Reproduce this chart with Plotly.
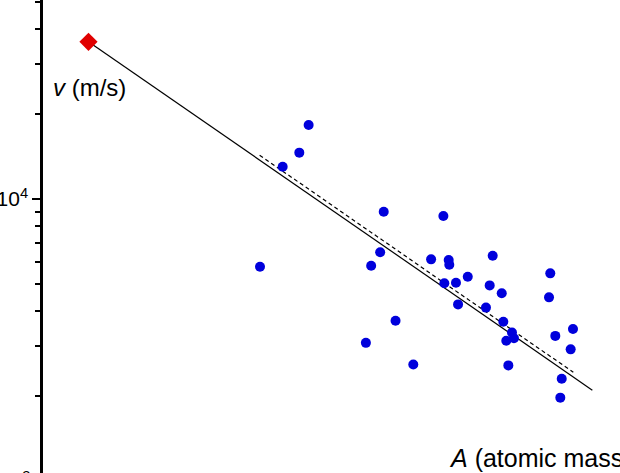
import plotly.graph_objects as go

# Experimental speed of sound in elemental solids vs atomic mass
mass_A = [12.0, 10.8, 8.95, 6.93, 28.0, 26.9, 24.3, 22.9, 32.0, 39.1,
          54.9, 47.8, 58.3, 58.7, 55.5, 63.3, 72.3, 64.8, 95.8, 92.6,
          106.1, 88.8, 108.0, 119.1, 121.8, 111.7, 114.3, 183.5, 180.9, 194.2,
          237.1, 231.0, 208.8, 205.5]
speed_v = [18300, 14600, 13020, 5750, 9015, 6470, 5800, 3090, 3700, 2590,
           8700, 6110, 6080, 5850, 5025, 5050, 5300, 4230, 6295, 4940,
           4630, 4120, 3670, 3360, 3210, 3145, 2570, 5450, 4480, 3270,
           3460, 2930, 2305, 1975]

# Upper bound (atomic metallic hydrogen)
bound_A = [1.0]
bound_v = [36100]

# Theoretical line v ~ A^-1/2 and fit
theory_A = [1.0, 295]
theory_v = [36100, 2100]
fit_A = [6.9, 238]
fit_v = [14300, 2430]

y_major = [10000]
y_major_text = ["10<sup>4</sup>"]
y_minor = [2000, 3000, 4000, 5000, 6000, 7000, 8000, 9000, 20000, 30000, 40000, 50000]

FONT = "Liberation Sans, Arial, sans-serif"

fig = go.Figure()
fig.add_trace(go.Scatter(x=theory_A, y=theory_v, mode="lines",
                         line=dict(color="black", width=1.2), showlegend=False))
fig.add_trace(go.Scatter(x=fit_A, y=fit_v, mode="lines",
                         line=dict(color="black", width=1.2, dash="4px,3px"), showlegend=False))
fig.add_trace(go.Scatter(x=mass_A, y=speed_v, mode="markers",
                         marker=dict(color="#0000dc", size=10, line=dict(width=0)),
                         showlegend=False))
fig.add_trace(go.Scatter(x=bound_A, y=bound_v, mode="markers",
                         marker=dict(color="#e00000", size=14, symbol="diamond", line=dict(width=0)),
                         showlegend=False))

fig.update_layout(
    width=620, height=473,
    margin=dict(l=43, r=0, t=0, b=0),
    paper_bgcolor="white", plot_bgcolor="white",
    font=dict(family=FONT, color="black", size=21),
    xaxis=dict(type="log", range=[-0.2230, 2.6054], visible=False),
    yaxis=dict(type="log", range=[3.0284, 4.7057],
               showline=True, linewidth=2.5, linecolor="black",
               showgrid=False, zeroline=False, automargin=False,
               tickmode="array", tickvals=y_major, ticktext=y_major_text,
               ticks="outside", ticklen=8, tickwidth=2, tickcolor="black",
               tickfont=dict(family=FONT, size=21, color="black"),
               minor=dict(tickmode="array", tickvals=y_minor, ticks="outside",
                          ticklen=5, tickwidth=2, tickcolor="black", showgrid=False)),
    annotations=[
        dict(text="<i>v</i> (m/s)", xref="paper", yref="paper", x=0.0139, y=0.816,
             xanchor="left", yanchor="middle", showarrow=False,
             font=dict(family=FONT, size=24, color="black")),
        dict(text="<i>A</i> (atomic mass)", xref="paper", yref="paper", x=0.7002, y=0.0317,
             xanchor="left", yanchor="middle", showarrow=False,
             font=dict(family=FONT, size=25, color="black")),
        dict(text="10<sup>3</sup>", xref="paper", yref="paper", x=-0.0173, y=-0.0169,
             xanchor="right", yanchor="middle", showarrow=False,
             font=dict(family=FONT, size=21, color="black")),
    ],
)

fig.write_html("out.html", config={"displayModeBar": False},
               post_script="document.body.style.margin='0px';")
